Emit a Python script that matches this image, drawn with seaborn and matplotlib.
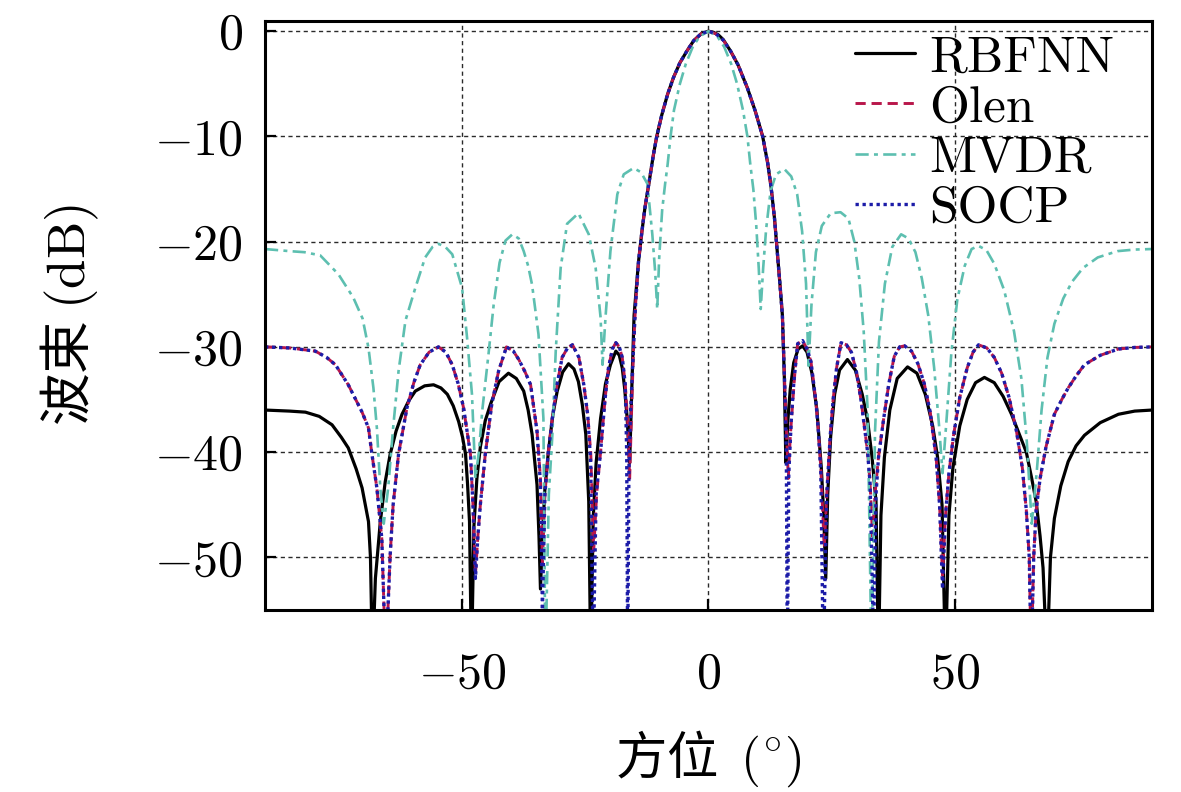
import numpy as np
import pandas as pd
import seaborn as sns
import matplotlib.pyplot as plt
from matplotlib.ticker import FuncFormatter, MultipleLocator

# values (angle in degrees, pattern in dB)
rbfnn_deg = [-90, -85, -81.8, -79, -76.4, -74.5, -73.1, -71.5, -70.3, -69.0, -68.6, -68.2,
             -67.6, -66.6, -65.6, -64.6, -63.4, -62.2, -60.8, -59.5, -57.6, -55.8, -54.3,
             -53.0, -51.8, -50.7, -49.9, -49.3, -48.9, -48.5, -48.1, -47.6, -47.0, -46.3,
             -45.3, -44.2, -42.5, -40.6, -39.0, -37.5, -36.6, -35.8, -34.8, -34.4, -34.1,
             -33.7, -33.2, -32.5, -31.6, -30.7, -29.6, -28.4, -27.3, -26.4, -25.6, -24.9,
             -24.3, -23.9, -23.4, -22.8, -21.9, -20.9, -19.9, -18.8, -18.1, -17.5, -17.0,
             -16.5, -16.0, -15.5, -15.1, -14.6, -14.2, -13.5, -12.9, -12.0, -11.2, -10.5,
             -9.5, -8.3, -7.1, -5.8, -4.4, -3.0, -1.5, 0,
             1, 2, 3, 4.5, 6, 7.9, 9.5, 11, 12, 12.7, 13.4, 14, 14.5, 15, 15.4, 15.7, 16.1,
             16.6, 17.3, 18.2, 19.1, 20, 21, 22, 22.9, 23.4, 23.8, 24.2, 24.8, 25.6, 26.6,
             28.2, 29.8, 31.2, 32.3, 33.2, 34, 34.5, 35.0, 35.7, 36.8, 38.3, 40.4, 42.3, 44,
             45.5, 46.5, 47.4, 48.1, 48.8, 49.6, 51, 52.5, 54.2, 56, 58, 59.8, 61.5, 63,
             64.5, 65.6, 66.5, 67.3, 67.9, 68.7, 69.4, 70.2, 71.5, 73, 74.6, 76.3, 79.5,
             83.2, 86.5, 90]
rbfnn_db = [-36.0, -36.1, -36.2, -36.6, -37.4, -38.6, -39.6, -41.6, -43.4, -46.6, -50, -60,
            -52, -46.6, -42.8, -40.2, -38.0, -36.4, -35.1, -34.2, -33.7, -33.6, -33.9,
            -34.5, -35.6, -37.1, -38.6, -40.2, -43, -46.6, -60, -47, -42.5, -39.5,
            -37, -35.4, -33.3, -32.5, -33.0, -34.2, -36, -38.3, -43.1, -48, -53,
            -48, -43.5, -40, -36.5, -34.2, -32.4, -31.6, -32.1, -33.3, -35.5, -38.3,
            -44.7, -60, -46.3, -41, -36.8, -33.5, -31.7, -30.4, -30.8, -32, -34,
            -36.8, -41, -33, -27, -24.2, -21.9, -19, -16.8, -14.2, -11.8, -10,
            -8, -6, -4.4, -3, -1.9, -0.9, -0.25, 0,
            -0.1, -0.35, -0.8, -1.9, -3.2, -5.4, -7.6, -10, -12.5, -14.8, -17.8, -21.2,
            -24, -27, -33, -41, -37,
            -34, -31.5, -30.2, -29.9, -30.5, -32.5, -36, -41.5, -46, -52, -44, -38.5, -34.5,
            -32.2, -31.2, -32.2, -34.5, -37, -40.5, -44.7, -60, -46, -40.5, -36, -33, -31.9,
            -32.5, -34.5, -37.5, -40.5, -45, -60, -46, -41.5, -37.5, -35, -33.4, -32.9,
            -33.4, -34.7, -36.4, -38.2, -40, -42.5, -44.7, -48, -51, -60, -50, -46.3, -43.2,
            -40.9, -39.4, -38.4, -37.2, -36.4, -36.1, -36.0]

olen_deg = [-90, -85, -79.8, -77.5, -75.7, -73.1, -70.3, -69, -68.3, -67.3, -66.3, -65.5,
            -64.6, -64, -62.9, -61.2, -59.8, -58.5, -56.7, -54.8, -53.3, -52, -50.8, -49.7,
            -48.3, -47.8, -47.3, -46.8, -46.3, -45.3, -44, -42.6, -41, -39.6, -38.5, -37.2,
            -36.1, -34.8, -34.1, -33.7, -33.2, -32.5, -31.7, -30.7, -29.7, -28.6, -27.6,
            -26.3, -25.3, -24.5, -23.9, -23.3, -22.7, -21.9, -21, -20.3, -19.5, -18.8,
            -18.1, -17.5, -16.9, -16.4, -16.0, -15.6, -15.2, -14.8, -14.2, -13.5, -12.9,
            -12, -11.2, -10.5, -9.5, -8.3, -7.1, -5.8, -4.4, -3, -1.5, 0,
            1.5, 3, 4.5, 6, 7.9, 9.5, 11, 12, 12.7, 13.4, 14, 14.5, 15, 15.5, 15.9, 16.2,
            16.6, 17.1, 17.6, 18.1, 19.1, 20, 20.8, 21.8, 22.3, 22.8, 23.5, 24, 24.7, 25.3,
            26, 26.9, 28, 29, 30, 31, 32.3, 32.8, 33.3, 33.8, 34.5, 35.5, 36.6, 37.7, 38.8,
            39.8, 41.2, 42.5, 43.8, 45, 46.2, 46.9, 47.5, 48.1, 48.8, 49.7, 51, 52.5, 53.7,
            54.8, 56.5, 58, 59.5, 61, 62.5, 63.7, 64.5, 65.1, 65.5, 66, 66.5, 67.3, 68.5,
            70.2, 71.7, 73, 74.7, 76.3, 79.5, 83.2, 86.5, 90]
olen_db = [-30.0, -30.1, -30.4, -31, -31.7, -33.6, -36.2, -37.7, -40.2, -43.4, -48.2, -60,
           -49.8, -45, -40.2, -35.8, -33.4, -31.7, -30.5, -30.0, -30.5, -31.7, -33.5, -35.8,
           -40.2, -45, -51.7, -48, -45, -40.2, -35.5, -32.3, -30.0, -30.4, -31.2, -32.4,
           -33.6, -38, -42.5, -50.5, -44, -40, -36.8, -33.5, -31, -30.1, -29.8,
           -31, -33.6, -36.5, -40, -49.4, -44, -40, -35, -32, -30.2, -29.6,
           -30, -31, -33.5, -37, -42.6, -36, -30, -26, -21.9, -19, -16.8,
           -14.2, -11.8, -10, -8, -6, -4.4, -3, -1.9, -0.9, -0.25, 0,
           -0.25, -0.85, -1.9, -3.2, -5.4, -7.6, -10, -12.5, -14.8, -17.8, -21.2, -24, -27,
           -34, -39, -42.5,
           -38.5, -35.2, -32, -29.7, -29.4, -30.2, -31.4, -35.2, -38, -41.5, -49.1, -44,
           -38.5, -35, -32, -29.6, -29.8, -30.5, -32.3, -35.2, -40, -43, -48, -44, -40.5,
           -37, -33.5, -30.9, -30.0, -29.9, -30.4, -31.6, -33.5, -36.2, -40.5, -45, -51.7,
           -46, -42, -38.5, -34.8, -32, -30.5, -29.8, -30.1, -31, -32.5, -34.8, -38, -41.5,
           -45.5, -50, -60, -50, -45.5, -42.5, -39.5, -36.4, -35, -33.9, -32.7, -31.7,
           -30.8, -30.2, -30.05, -30.0]

mvdr_deg = [-90, -85, -82, -78.8, -75.1, -72.1, -70.2, -69, -68, -67.3, -66.6, -65.9, -65,
            -64, -62.9, -61.5, -59.5, -57.5, -56, -54.8, -53.4, -52, -50, -49, -48, -47.3,
            -46.6, -45.9, -44.6, -43.6, -42.4, -41.2, -39.8, -38.5, -37.5, -36.6, -35.8,
            -34.5, -33.5, -33.1, -32.4, -31.7, -31, -30, -28.7, -26.4, -24.3, -22.9, -21.9,
            -21.5, -20.9, -19.9, -18.5, -17.2, -15.2, -13.7, -12.4, -11.4, -10.8, -10.4,
            -10.0, -9.4, -8.8, -8.3, -7.7, -7.0, -5.8, -4.6, -3.2, -1.8, 0,
            1.8, 3.2, 4.6, 5.8, 7, 7.9, 8.5, 9.1, 9.7, 10.2, 10.6, 11.1, 11.7, 12.6, 13.7,
            15.4, 16.8, 18, 19, 19.8, 20.3, 20.9, 21.8, 23, 24.8, 26.8, 28.4, 29.6, 30.6,
            31.5, 32.3, 33.1, 33.8, 34.6, 35.8, 37.3, 39.1, 40.6, 42, 43.3, 44.6, 45.8,
            46.8, 47.5, 48.3, 49.3, 50.5, 52, 53.4, 54.8, 56.4, 58, 60, 62, 63.5, 64.6,
            65.6, 66.6, 67.6, 68.8, 70.2, 72, 73.8, 76, 79, 83, 86.5, 90]
mvdr_db = [-20.7, -20.9, -21.0, -21.3, -23.1, -25.3, -27.3, -30.1, -33.9, -37.7, -43.4, -46.8,
           -43.4, -37.7, -32.3, -27.5, -24.4, -21.5, -20.5, -20.2, -20.5, -21.2, -24.4, -29.1,
           -34.5, -42.5, -40, -36, -30.5, -26, -22, -19.9, -19.3, -19.7, -20.9, -22.3, -24.1,
           -28.8, -36.8, -60, -44, -38.5, -30.4, -22.5, -18.3, -17.3, -19.3, -22.5, -27.2,
           -31.7, -27.2, -20.9, -15.5, -13.6, -13.0, -13.4, -14.5, -19.3, -23, -26.4,
           -21.5, -17, -14.5, -12.7, -10, -7.5, -5, -3.1, -1.5, -0.5, 0,
           -0.5, -1.5, -3.1, -5, -7.5, -10, -12.7, -15, -18.5, -22.5, -26.4, -22.5, -18.8,
           -15.2, -13.6, -13.1, -13.8, -15.5, -19, -24, -31.8, -26, -21, -18.5, -17.3,
           -17.2, -17.8, -20, -23.5, -28.5, -36, -60, -38, -29.5, -24, -20.5, -19.3, -19.7,
           -21, -23.5, -27, -32, -37.5, -42, -37, -30.5, -25.5, -22.3, -20.7, -20.4, -20.8,
           -22.1, -24.6, -28.5, -33, -39, -46.8, -42, -36, -31, -27.8, -25.4, -23.8, -22.5,
           -21.5, -20.9, -20.75, -20.7]

socp_deg = [-90, -85, -79.8, -77.5, -75.7, -73.1, -70.3, -69, -68.3, -67.3, -66.3, -65.5,
            -64.6, -64, -62.9, -61.2, -59.8, -58.5, -56.7, -54.8, -53.3, -52, -50.8, -49.7,
            -48.3, -47.8, -47.3, -46.8, -46.3, -45.3, -44, -42.6, -41, -39.6, -38.5, -37.2,
            -36.1, -34.8, -34.1, -33.7, -33.2, -32.5, -31.7, -30.7, -29.7, -28.6, -27.6,
            -26.3, -25.3, -24.5, -23.9, -23.4, -22.8, -21.9, -21, -20.3, -19.5, -18.8,
            -18.1, -17.5, -16.9, -16.6, -16.4, -16.15, -15.8, -15.2, -14.8, -14.2, -13.5,
            -12.9, -12, -11.2, -10.5, -9.5, -8.3, -7.1, -5.8, -4.4, -3, -1.5, 0,
            1.5, 3, 4.5, 6, 7.9, 9.5, 11, 12, 12.7, 13.4, 14, 14.5, 15, 15.5, 15.8, 16.0,
            16.3, 16.8, 17.3, 18.1, 19.1, 20, 20.8, 21.8, 22.3, 22.8, 23.3, 24, 24.7, 25.3,
            26, 26.9, 28, 29, 30, 31, 32.3, 32.8, 33.5, 34.0, 34.5, 35.5, 36.6, 37.7, 38.8,
            39.8, 41.2, 42.5, 43.8, 45, 46.2, 46.9, 47.5, 48.1, 48.8, 49.7, 51, 52.5, 53.7,
            54.8, 56.5, 58, 59.5, 61, 62.5, 63.7, 64.5, 65.1, 65.5, 66, 66.5, 67.3, 68.5,
            70.2, 71.7, 73, 74.7, 76.3, 79.5, 83.2, 86.5, 90]
socp_db = [-30.0, -30.1, -30.4, -31, -31.7, -33.6, -36.2, -37.7, -40.2, -43.4, -48.2, -60,
           -49.8, -45, -40.2, -35.8, -33.4, -31.7, -30.5, -30.0, -30.5, -31.7, -33.5, -35.8,
           -40.2, -45, -52, -48, -45, -40.2, -35.5, -32.3, -30.0, -30.4, -31.2, -32.4,
           -33.6, -38, -43, -55, -44, -40, -36.8, -33.5, -31, -30.1, -29.8,
           -31, -33.6, -36.5, -41, -60, -44, -40, -35, -32, -30.2, -29.6,
           -30, -31, -33.5, -40, -60, -42, -36, -30, -26, -21.9, -19,
           -16.8, -14.2, -11.8, -10, -8, -6, -4.4, -3, -1.9, -0.9, -0.25, 0,
           -0.25, -0.85, -1.9, -3.2, -5.4, -7.6, -10, -12.5, -14.8, -17.8, -21.2, -24, -27,
           -34, -40, -60,
           -42, -37, -33.5, -29.7, -29.4, -30.2, -31.4, -35.2, -38, -42, -60, -44,
           -38.5, -35, -32, -29.6, -29.8, -30.5, -32.3, -35.2, -40, -43, -58, -44, -40.5,
           -37, -33.5, -30.9, -30.0, -29.9, -30.4, -31.6, -33.5, -36.2, -40.5, -45, -53,
           -46, -42, -38.5, -34.8, -32, -30.5, -29.8, -30.1, -31, -32.5, -34.8, -38, -41.5,
           -45.5, -50, -60, -50, -45.5, -42.5, -39.5, -36.4, -35, -33.9, -32.7, -31.7,
           -30.8, -30.2, -30.05, -30.0]

series = [
    ("RBFNN", rbfnn_deg, rbfnn_db, "black", "-", 2.3),
    ("Olen", olen_deg, olen_db, "#b8164a", (0, (3.5, 2)), 2.1),
    ("MVDR", mvdr_deg, mvdr_db, "#5dbfb0", (0, (5, 2, 1.5, 2)), 1.9),
    ("SOCP", socp_deg, socp_db, "#1c1ca8", (0, (1, 1.1)), 2.4),
]

sns.set_style("ticks")
plt.rcParams['font.family'] = ['cmr10', 'Noto Sans CJK SC']
plt.rcParams['mathtext.fontset'] = 'cm'
plt.rcParams['axes.formatter.use_mathtext'] = True
plt.rcParams['text.color'] = 'black'
plt.rcParams['axes.labelcolor'] = 'black'

fig = plt.figure(figsize=(11.81, 7.92), dpi=100)
ax = fig.add_subplot(111)
fig.subplots_adjust(left=0.2244, right=0.9754, top=0.9739, bottom=0.2298)

for name, xs, ys, col, ls, lw in series:
    df = pd.DataFrame({"deg": xs, "db": ys})
    sns.lineplot(data=df, x="deg", y="db", ax=ax, color=col, linestyle=ls,
                 linewidth=lw, label=name, estimator=None, sort=False)

ax.set_xlim(-90, 90)
ax.set_ylim(-55, 1)
ax.xaxis.set_major_locator(MultipleLocator(50))
ax.yaxis.set_major_locator(MultipleLocator(10))
fmt = FuncFormatter(lambda v, p: "$%d$" % round(v))
ax.xaxis.set_major_formatter(fmt)
ax.yaxis.set_major_formatter(fmt)

ax.grid(True, color="#2a2a2a", linestyle=(0, (3, 2.5)), linewidth=1.0)
ax.tick_params(axis="both", which="major", direction="in", length=8, width=1.6,
               labelsize=36, colors="black")
ax.tick_params(axis="x", pad=30)
ax.tick_params(axis="y", pad=16)
for sp in ax.spines.values():
    sp.set_linewidth(2.2)
    sp.set_color("black")

cjk = ['Noto Sans CJK SC']
ax.set_xlabel("方位  $\\mathrm{(^{\\circ})}$", fontsize=37, labelpad=22, family=cjk)
ax.set_ylabel("波束 $\\mathrm{(dB)}$", fontsize=38, labelpad=38, family=cjk)

ax.legend(loc="upper right", frameon=False, fontsize=37, handlelength=1.17,
          handletextpad=0.29, labelspacing=0.08, borderaxespad=0.0, borderpad=0.0,
          bbox_to_anchor=(0.958, 0.975))

plt.savefig("out.png", dpi=100)
